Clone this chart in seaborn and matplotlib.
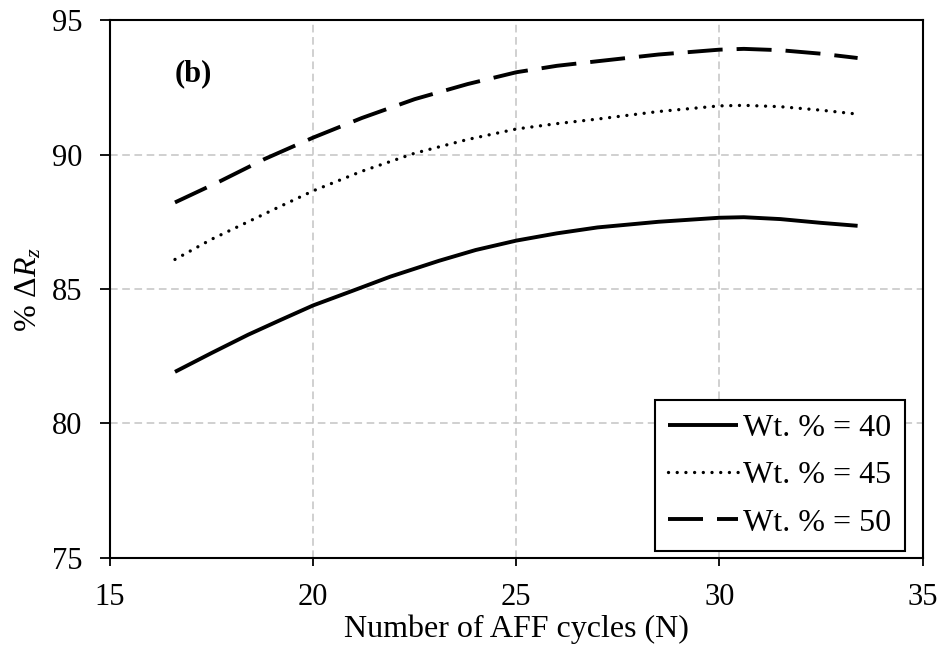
import matplotlib
matplotlib.use("Agg")
import matplotlib.pyplot as plt
import seaborn as sns
import pandas as pd

# Percentage reduction of Rz versus number of AFF cycles, for three abrasive concentrations
cycles_40 = [16.6, 17.5, 18.4, 19.2, 20.0, 21.0, 21.9, 23.1, 24.0, 25.0, 26.0, 27.0, 28.5, 30.0, 30.6, 31.5, 32.5, 33.4]
rz_40 = [81.92, 82.62, 83.30, 83.85, 84.39, 84.95, 85.46, 86.05, 86.45, 86.80, 87.07, 87.29, 87.50, 87.65, 87.67, 87.60, 87.46, 87.35]

cycles_45 = [16.6, 17.5, 18.4, 19.2, 20.0, 21.2, 22.5, 23.8, 25.0, 26.0, 27.0, 28.5, 30.0, 30.6, 31.5, 32.5, 33.3]
rz_45 = [86.10, 86.85, 87.50, 88.08, 88.65, 89.38, 90.05, 90.56, 90.95, 91.15, 91.32, 91.60, 91.81, 91.83, 91.78, 91.65, 91.52]

cycles_50 = [16.6, 17.7, 18.8, 20.0, 21.2, 22.5, 23.8, 25.0, 26.0, 27.0, 28.5, 30.0, 30.6, 31.5, 32.5, 33.4]
rz_50 = [88.22, 89.00, 89.83, 90.63, 91.36, 92.06, 92.62, 93.06, 93.30, 93.47, 93.72, 93.90, 93.93, 93.88, 93.75, 93.59]

labels = ["Wt. % = 40", "Wt. % = 45", "Wt. % = 50"]
x_ticks = [15, 20, 25, 30, 35]
y_ticks = [75, 80, 85, 90, 95]

sns.set_theme(style="white")
plt.rcParams["font.family"] = ["Liberation Serif", "DejaVu Serif"]
plt.rcParams["mathtext.fontset"] = "custom"
plt.rcParams["mathtext.rm"] = "Liberation Serif"
plt.rcParams["mathtext.it"] = "Liberation Serif:italic"
plt.rcParams["mathtext.bf"] = "Liberation Serif:bold"
for key in ["text.color", "axes.labelcolor", "xtick.color", "ytick.color"]:
    plt.rcParams[key] = "black"

FS_TICK = 22
FS_LABEL = 23
FS_LEG = 23

fig = plt.figure(figsize=(9.4, 6.48), dpi=100)
ax = fig.add_axes([0.117, 0.139, 0.8645, 0.830])

series = [
    (cycles_40, rz_40, dict(linestyle="-", linewidth=2.8, solid_capstyle="butt")),
    (cycles_45, rz_45, dict(linestyle=(0, (0.01, 2.6)), linewidth=2.4, dash_capstyle="round")),
    (cycles_50, rz_50, dict(linestyle=(0, (9.0, 3.6)), linewidth=2.8, dash_capstyle="butt")),
]
for (xs, ys, style), lab in zip(series, labels):
    df = pd.DataFrame({"N": xs, "Rz": ys})
    sns.lineplot(data=df, x="N", y="Rz", ax=ax, color="black",
                 label=lab, zorder=3, **style)

ax.set_xlim(15, 35)
ax.set_ylim(75, 95)
ax.set_xticks(x_ticks)
ax.set_yticks(y_ticks)
ax.grid(True, color="#c4c4c4", linestyle=(0, (5, 3)), linewidth=1.1, zorder=0)
for s in ax.spines.values():
    s.set_color("black")
    s.set_linewidth(1.5)
    s.set_visible(True)

ax.tick_params(axis="x", direction="out", length=6, width=1.3, color="black",
               labelsize=FS_TICK, pad=12, bottom=True)
ax.tick_params(axis="y", direction="out", length=7, width=1.3, color="black",
               labelsize=FS_TICK, pad=13, left=True)

ax.set_xlabel("Number of AFF cycles (N)", fontsize=FS_LABEL, labelpad=2)
ax.set_ylabel(r"% $\mathit{\Delta R}_{\mathit{z}}$", fontsize=FS_LABEL, labelpad=6)

ax.text(0.102, 0.901, "(b)", transform=ax.transAxes, fontsize=FS_TICK, fontweight="bold",
        ha="center", va="center")

leg = ax.legend(loc="lower right", bbox_to_anchor=(0.978, 0.013), fontsize=FS_LEG,
                frameon=True, fancybox=False, framealpha=1, edgecolor="black",
                handlelength=2.2, handletextpad=0.15, labelspacing=0.56,
                borderpad=0.42, borderaxespad=0)
leg.get_frame().set_linewidth(1.5)

fig.savefig("out.png", dpi=100)
